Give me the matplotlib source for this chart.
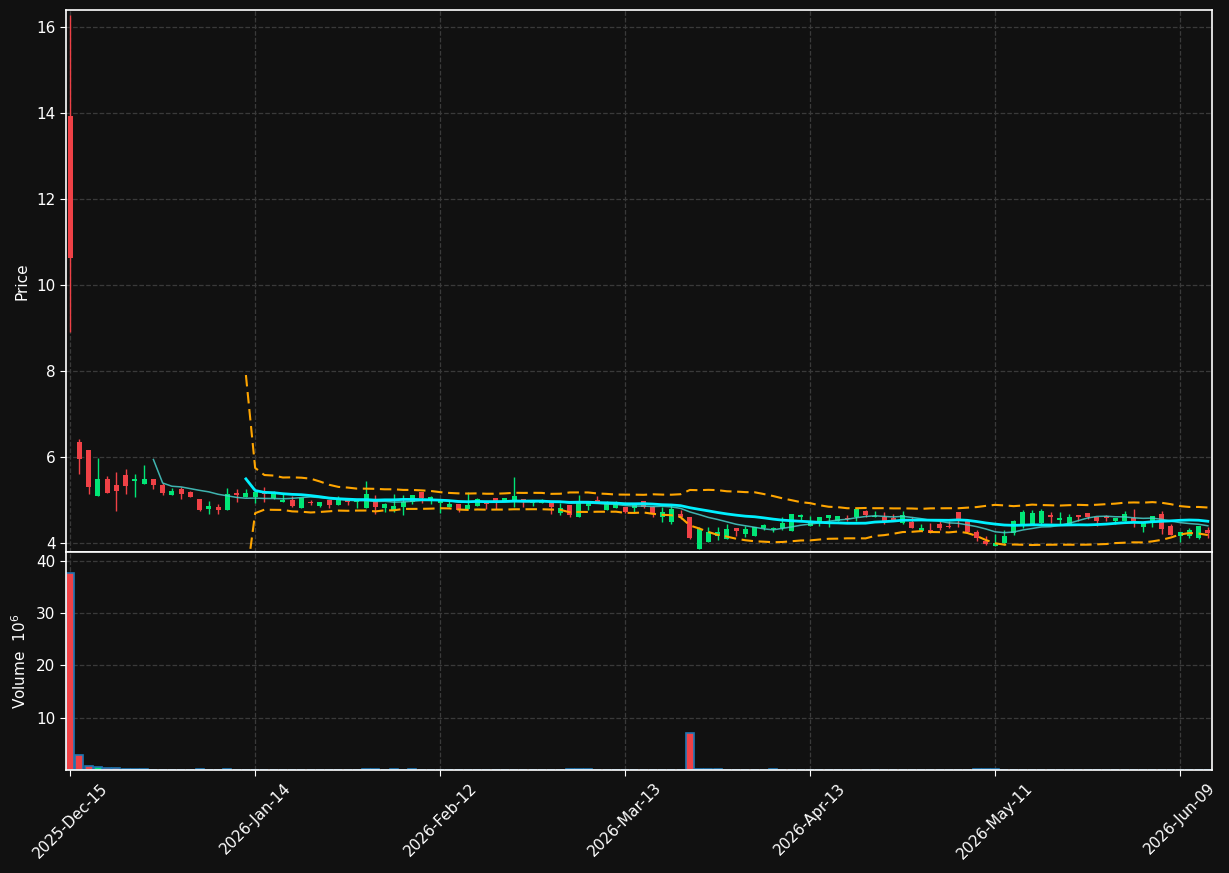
import numpy as np
import pandas as pd
import matplotlib
matplotlib.use("Agg")
import matplotlib.pyplot as plt

# ---------------- data ----------------
holidays = ["2025-12-25", "2026-01-01", "2026-01-19", "2026-02-16", "2026-04-03", "2026-05-25"]
dates = pd.bdate_range("2025-12-15", "2026-06-12", freq="C", holidays=holidays)

opens = [13.93, 6.35, 6.16, 5.10, 5.50, 5.35, 5.58, 5.45, 5.38, 5.49,
         5.35, 5.12, 5.26, 5.19, 5.02, 4.80, 4.84, 4.77, 5.17, 5.07,
         5.06, 5.19, 5.04, 4.96, 5.01, 4.82, 4.96, 4.86, 5.01, 4.89,
         5.05, 4.95, 4.82, 4.97, 4.82, 4.75, 4.84, 4.96, 5.19, 5.00,
         4.94, 4.83, 4.91, 4.79, 4.86, 4.93, 5.05, 4.98, 4.98, 5.02,
         4.94, 4.92, 4.94, 4.69, 4.88, 4.61, 4.86, 5.00, 4.77, 4.82,
         4.84, 4.82, 4.98, 4.84, 4.61, 4.49, 4.67, 4.60, 3.86, 4.03,
         4.17, 4.09, 4.36, 4.22, 4.16, 4.36, 4.32, 4.34, 4.29, 4.60,
         4.40, 4.46, 4.57, 4.52, 4.59, 4.60, 4.74, 4.60, 4.60, 4.57,
         4.47, 4.48, 4.28, 4.30, 4.44, 4.40, 4.72, 4.52, 4.25, 4.05,
         3.94, 3.99, 4.24, 4.43, 4.43, 4.46, 4.65, 4.53, 4.43, 4.65,
         4.70, 4.60, 4.63, 4.52, 4.52, 4.59, 4.38, 4.48, 4.67, 4.40,
         4.17, 4.16, 4.12, 4.30]
closes = [10.63, 5.96, 5.31, 5.48, 5.17, 5.21, 5.33, 5.49, 5.49, 5.35,
          5.16, 5.21, 5.15, 5.08, 4.77, 4.86, 4.77, 5.13, 5.12, 5.16,
          5.19, 5.13, 5.14, 5.01, 4.87, 5.05, 4.92, 4.96, 4.88, 5.02,
          4.96, 5.02, 5.14, 4.84, 4.91, 4.86, 4.96, 5.12, 5.04, 5.06,
          5.02, 4.91, 4.77, 4.88, 5.02, 4.91, 4.94, 5.05, 5.09, 4.98,
          5.00, 5.00, 4.84, 4.81, 4.65, 4.94, 4.94, 4.94, 4.94, 4.92,
          4.73, 4.88, 4.84, 4.69, 4.72, 4.79, 4.60, 4.11, 4.33, 4.26,
          4.25, 4.33, 4.28, 4.33, 4.38, 4.42, 4.36, 4.46, 4.67, 4.65,
          4.52, 4.60, 4.65, 4.63, 4.55, 4.79, 4.64, 4.63, 4.52, 4.53,
          4.65, 4.36, 4.36, 4.24, 4.36, 4.38, 4.55, 4.26, 4.12, 3.98,
          3.99, 4.16, 4.51, 4.72, 4.70, 4.74, 4.60, 4.58, 4.60, 4.60,
          4.60, 4.52, 4.57, 4.59, 4.67, 4.52, 4.48, 4.63, 4.32, 4.19,
          4.25, 4.30, 4.40, 4.24]
highs = [16.28, 6.43, 6.16, 5.97, 5.56, 5.64, 5.71, 5.60, 5.81, 5.49,
         5.39, 5.29, 5.31, 5.21, 5.02, 4.98, 4.91, 5.27, 5.25, 5.25,
         5.19, 5.30, 5.22, 5.14, 5.10, 5.05, 5.00, 4.96, 5.01, 5.09,
         5.05, 5.02, 5.44, 5.12, 4.92, 5.13, 5.11, 5.12, 5.19, 5.10,
         5.02, 4.98, 4.91, 5.18, 5.05, 4.98, 5.05, 5.05, 5.53, 5.02,
         5.00, 5.02, 4.94, 4.94, 4.88, 5.11, 4.94, 5.09, 4.98, 4.98,
         4.84, 4.92, 4.98, 4.86, 4.83, 4.91, 4.77, 4.60, 4.38, 4.38,
         4.38, 4.43, 4.36, 4.40, 4.38, 4.43, 4.38, 4.61, 4.67, 4.67,
         4.63, 4.60, 4.65, 4.63, 4.64, 4.79, 4.77, 4.74, 4.71, 4.67,
         4.74, 4.61, 4.43, 4.46, 4.50, 4.50, 4.72, 4.52, 4.30, 4.16,
         4.22, 4.30, 4.53, 4.77, 4.77, 4.78, 4.73, 4.71, 4.67, 4.65,
         4.70, 4.60, 4.65, 4.59, 4.74, 4.79, 4.48, 4.63, 4.74, 4.43,
         4.26, 4.34, 4.40, 4.38]
lows = [8.91, 5.60, 5.14, 5.10, 5.16, 4.75, 5.13, 5.06, 5.38, 5.25,
        5.12, 5.12, 5.02, 5.08, 4.74, 4.67, 4.67, 4.77, 4.95, 5.07,
        4.92, 4.96, 5.02, 4.96, 4.84, 4.82, 4.88, 4.84, 4.82, 4.89,
        4.88, 4.81, 4.82, 4.67, 4.71, 4.73, 4.66, 4.91, 4.94, 4.91,
        4.69, 4.83, 4.73, 4.79, 4.86, 4.79, 4.79, 4.98, 4.84, 4.84,
        4.86, 4.92, 4.67, 4.64, 4.61, 4.61, 4.77, 4.94, 4.77, 4.82,
        4.69, 4.72, 4.82, 4.60, 4.49, 4.44, 4.55, 4.09, 3.86, 4.03,
        4.07, 4.09, 4.17, 4.13, 4.16, 4.30, 4.25, 4.30, 4.29, 4.53,
        4.40, 4.40, 4.38, 4.52, 4.50, 4.50, 4.60, 4.60, 4.43, 4.53,
        4.44, 4.34, 4.28, 4.24, 4.30, 4.36, 4.38, 4.26, 4.05, 3.95,
        3.94, 3.95, 4.19, 4.36, 4.42, 4.43, 4.46, 4.43, 4.42, 4.52,
        4.55, 4.40, 4.50, 4.43, 4.50, 4.38, 4.25, 4.38, 4.21, 4.19,
        4.02, 4.11, 4.09, 4.11]
volumes = np.full(len(closes), 0.02)
vol_points = {0: 37.7, 1: 2.86, 2: 0.76, 3: 0.57, 4: 0.38, 5: 0.38, 6: 0.15, 7: 0.15, 8: 0.15,
              14: 0.15, 17: 0.15, 32: 0.2, 33: 0.2, 35: 0.15, 37: 0.15, 54: 0.2, 55: 0.2, 56: 0.2,
              67: 7.07, 68: 0.2, 69: 0.2, 70: 0.2, 76: 0.15, 98: 0.15, 99: 0.15, 100: 0.15}
for k, v in vol_points.items():
    volumes[k] = v

df = pd.DataFrame({"Open": opens, "High": highs, "Low": lows, "Close": closes, "Volume": volumes},
                  index=dates[:len(closes)])

# ---------------- style ----------------
BG = "#111111"
UP = "#00e676"
DOWN = "#ef4146"
GRID = "#3a3a3a"
plt.rcParams["font.family"] = ["DejaVu Sans"]

fig = plt.figure(figsize=(12.29, 8.73), dpi=100, facecolor=BG)
axp = fig.add_axes([66/1229, 1-552/873, 1146/1229, 542/873], facecolor=BG)
axv = fig.add_axes([66/1229, 1-770/873, 1146/1229, 218/873], facecolor=BG, sharex=axp)

x = np.arange(len(df))
o = df["Open"].values; c = df["Close"].values
h = df["High"].values; l = df["Low"].values
up = c >= o
colors = np.where(up, UP, DOWN)

# wicks and bodies
axp.vlines(x, l, h, colors=colors, linewidth=1.0, zorder=2)
body_bottom = np.minimum(o, c)
body_h = np.maximum(np.abs(c - o), 0.01)
axp.bar(x, body_h, bottom=body_bottom, width=0.55, color=colors, linewidth=0, zorder=3)

# moving averages and bollinger bands
ma10 = df["Close"].rolling(10).mean()
ma20 = df["Close"].rolling(20).mean()
sd20 = df["Close"].rolling(20).std(ddof=0)
dash = (0, (5.5, 2.7))
axp.plot(x, ma10, color="#48d1cc", linewidth=1.1, alpha=0.85, zorder=4)
axp.plot(x, ma20, color="#00f0ff", linewidth=2.0, zorder=4)
axp.plot(x, ma20 + 2*sd20, color="#ffa500", linewidth=1.5, linestyle=dash, zorder=4)
axp.plot(x, ma20 - 2*sd20, color="#ffa500", linewidth=1.5, linestyle=dash, zorder=4)

# volume
axv.bar(x, df["Volume"].values, width=0.88, color=colors, edgecolor="#1f77b4", linewidth=1.2, zorder=2)

# axes
axp.set_xlim(-0.45, 123.45)
axp.set_ylim(3.79, 16.4)
axv.set_ylim(0, 41.7)
axp.set_yticks([4, 6, 8, 10, 12, 14, 16])
axv.set_yticks([10, 20, 30, 40])

tick_pos = list(range(0, len(df), 20))
axv.set_xticks(tick_pos)
axv.set_xticklabels([df.index[i].strftime("%Y-%b-%d") for i in tick_pos], rotation=45, ha="center")
plt.setp(axp.get_xticklabels(), visible=False)

for ax in (axp, axv):
    ax.grid(True, color=GRID, linestyle="--", linewidth=0.9)
    ax.set_axisbelow(True)
    for sp in ax.spines.values():
        sp.set_color("white")
        sp.set_linewidth(1.2)
    ax.tick_params(colors="white", labelsize=11, length=4)

axp.set_ylabel("Price", color="white", fontsize=11)
axv.set_ylabel("Volume  $10^{6}$", color="white", fontsize=11)
axp.yaxis.set_label_coords(-0.032, 0.5)
axv.yaxis.set_label_coords(-0.032, 0.5)

fig.savefig("out.png", dpi=100, facecolor=BG)
